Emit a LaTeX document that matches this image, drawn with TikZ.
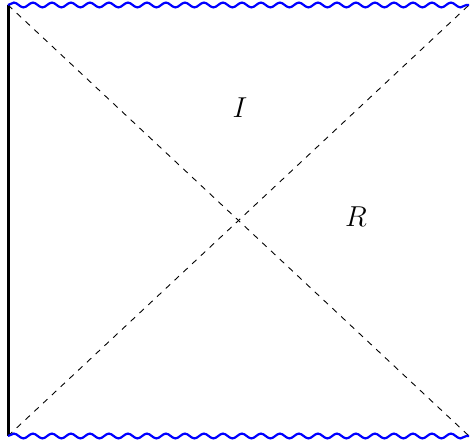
\documentclass[tikz,border=0pt]{standalone}
\usetikzlibrary{decorations.pathmorphing}
\begin{document}
\begin{tikzpicture}[x=0.5pt,y=-0.5pt,
  sing/.style={blue,line width=1.1pt,decorate,decoration={snake,amplitude=1.2pt,segment length=9.5pt}},
  horizon/.style={dashed,line width=0.45pt},
  origin/.style={line width=1.5pt},
  lbl/.style={font=\fontsize{15}{18}\selectfont}]
\useasboundingbox (0,0) rectangle (470,444);
\coordinate (tl) at (8,5);
\coordinate (tr) at (469,5);
\coordinate (bl) at (8,436);
\coordinate (br) at (469,436);
\draw[origin] (tl) -- (bl);
\draw[horizon] (tl) -- (br);
\draw[horizon] (bl) -- (tr);
\draw[sing] (tl) -- (tr);
\draw[sing] (bl) -- (br);
\node[lbl] (I) at (240,108) {$I$};
\node[lbl] (R) at (356,217) {$R$};
\end{tikzpicture}
\end{document}
